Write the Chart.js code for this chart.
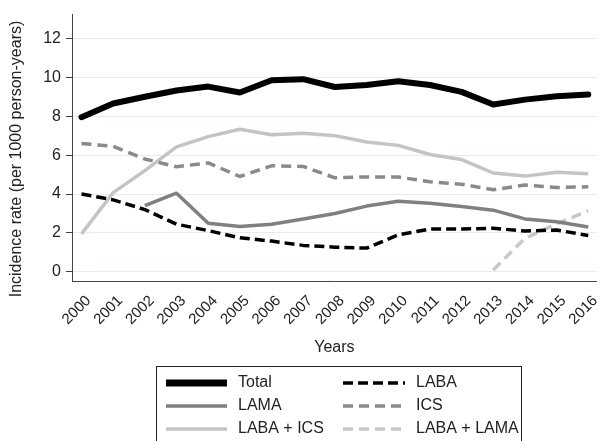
<!DOCTYPE html>
<html>
<head>
<meta charset="utf-8">
<script src="https://cdn.jsdelivr.net/npm/chart.js@4"></script>
<style>
  html, body { margin: 0; padding: 0; background: #fff; }
  #wrap { width: 606px; height: 441px; position: relative; }
</style>
</head>
<body>
<div id="wrap"><canvas id="c"></canvas></div>
<script>
// Incidence rates per 1000 person-years, by year and treatment group
const years = [2000, 2001, 2002, 2003, 2004, 2005, 2006, 2007, 2008,
               2009, 2010, 2011, 2012, 2013, 2014, 2015, 2016];
const total    = [7.95, 8.65, 9.0, 9.32, 9.52, 9.22, 9.85, 9.9, 9.5, 9.6, 9.8, 9.6, 9.25, 8.6, 8.85, 9.02, 9.12];
const laba     = [4.0, 3.7, 3.2, 2.45, 2.12, 1.75, 1.58, 1.36, 1.27, 1.22, 1.9, 2.2, 2.2, 2.24, 2.1, 2.15, 1.87];
const lama     = [null, null, 3.4, 4.04, 2.5, 2.33, 2.45, 2.72, 3.0, 3.38, 3.63, 3.53, 3.36, 3.17, 2.72, 2.57, 2.3];
const ics      = [6.6, 6.45, 5.8, 5.4, 5.6, 4.9, 5.45, 5.42, 4.83, 4.88, 4.87, 4.63, 4.5, 4.22, 4.46, 4.33, 4.37];
const labaIcs  = [1.95, 4.07, 5.2, 6.42, 6.95, 7.33, 7.05, 7.12, 7.0, 6.67, 6.5, 6.03, 5.77, 5.08, 4.92, 5.12, 5.04];
const labaLama = [null, null, null, null, null, null, null, null, null, null, null, null, null, 0.1, 1.72, 2.47, 3.14];
const yTicks = [0, 2, 4, 6, 8, 10, 12];

const FONT = "'Liberation Sans', Arial, sans-serif";
const TEXT = '#222';
const Y_TITLE = 'Incidence rate (per 1000 person-years)';

function pts(arr) {
  return years.map((y, i) => ({ x: y, y: arr[i] }));
}

const datasets = [
  { label: 'Total', data: pts(total), borderColor: '#000', borderWidth: 6, borderCapStyle: 'round', order: 1 },
  { label: 'LABA', data: pts(laba), borderColor: '#000', borderWidth: 3.5, borderDash: [10, 5], order: 2 },
  { label: 'LAMA', data: pts(lama), borderColor: '#808080', borderWidth: 3.5, order: 3 },
  { label: 'ICS', data: pts(ics), borderColor: '#8a8a8a', borderWidth: 3.5, borderDash: [10, 6], order: 4 },
  { label: 'LABA + ICS', data: pts(labaIcs), borderColor: '#c4c4c4', borderWidth: 3.5, order: 5 },
  { label: 'LABA + LAMA', data: pts(labaLama), borderColor: '#c8c8c8', borderWidth: 3.5, borderDash: [10, 6], order: 6 }
];

// Vertical axis title, placed a little below the plot's centre line
const yTitle = {
  id: 'yTitle',
  afterDraw(chart) {
    const ctx = chart.ctx;
    ctx.save();
    ctx.translate(17, 159);
    ctx.rotate(-Math.PI / 2);
    ctx.font = '16px ' + FONT;
    ctx.fillStyle = TEXT;
    ctx.textAlign = 'center';
    ctx.textBaseline = 'middle';
    ctx.fillText(Y_TITLE, 0, 0);
    ctx.restore();
  }
};

// Boxed two-column legend below the axis title
const boxLegend = {
  id: 'boxLegend',
  afterDraw(chart) {
    const ctx = chart.ctx;
    const left = 156, top = 366, right = 521;
    const rows = [383, 406, 429];
    const cols = [{ x0: 166, x1: 227, tx: 238 }, { x0: 343, x1: 405, tx: 416 }];
    ctx.save();
    ctx.strokeStyle = '#222';
    ctx.lineWidth = 1;
    ctx.strokeRect(left + 0.5, top + 0.5, right - left, 100);
    ctx.font = '16px ' + FONT;
    ctx.fillStyle = TEXT;
    ctx.textBaseline = 'middle';
    chart.data.datasets.forEach((ds, k) => {
      const r = Math.floor(k / 2), c = k % 2;
      const y = rows[r], col = cols[c];
      ctx.beginPath();
      ctx.strokeStyle = ds.borderColor;
      ctx.lineWidth = ds.label === 'Total' ? 7 : ds.borderWidth;
      ctx.lineCap = 'butt';
      ctx.setLineDash(ds.borderDash || []);
      ctx.moveTo(col.x0, y);
      ctx.lineTo(col.x1, y);
      ctx.stroke();
      ctx.setLineDash([]);
      ctx.fillText(ds.label, col.tx, y);
    });
    ctx.restore();
  }
};

new Chart(document.getElementById('c'), {
  type: 'line',
  data: { datasets },
  plugins: [yTitle, boxLegend],
  options: {
    responsive: true,
    maintainAspectRatio: false,
    animation: false,
    spanGaps: false,
    elements: {
      point: { radius: 0, hoverRadius: 0 },
      line: { tension: 0, borderJoinStyle: 'round', fill: false }
    },
    layout: { padding: { left: 0, right: 0, top: 12, bottom: 80 } },
    plugins: {
      legend: { display: false },
      tooltip: { enabled: false }
    },
    scales: {
      x: {
        type: 'linear',
        min: 1999.7,
        max: 2016.27,
        afterBuildTicks(scale) { scale.ticks = years.map(v => ({ value: v })); },
        afterFit(scale) { scale.height = 80; },
        grid: { display: false, drawOnChartArea: false, drawTicks: true, tickLength: 6, tickColor: '#444' },
        border: { display: true, color: '#444', width: 1 },
        ticks: {
          autoSkip: false,
          minRotation: 45,
          maxRotation: 45,
          padding: 5,
          labelOffset: 7,
          color: TEXT,
          font: { family: FONT, size: 15 },
          callback: v => String(v)
        },
        title: {
          display: true,
          text: 'Years',
          color: TEXT,
          font: { family: FONT, size: 16 },
          padding: { top: 4, bottom: 4 }
        }
      },
      y: {
        min: -0.47,
        max: 13.22,
        afterBuildTicks(scale) { scale.ticks = yTicks.map(v => ({ value: v })); },
        afterFit(scale) { scale.width = 72; },
        grid: { color: '#e3edf1', lineWidth: 1, drawTicks: true, tickLength: 6, tickColor: '#444' },
        border: { display: true, color: '#444', width: 1 },
        ticks: {
          color: TEXT,
          padding: 5,
          font: { family: FONT, size: 16 },
          callback: v => String(v)
        },
        title: { display: false }
      }
    }
  }
});
</script>
</body>
</html>
